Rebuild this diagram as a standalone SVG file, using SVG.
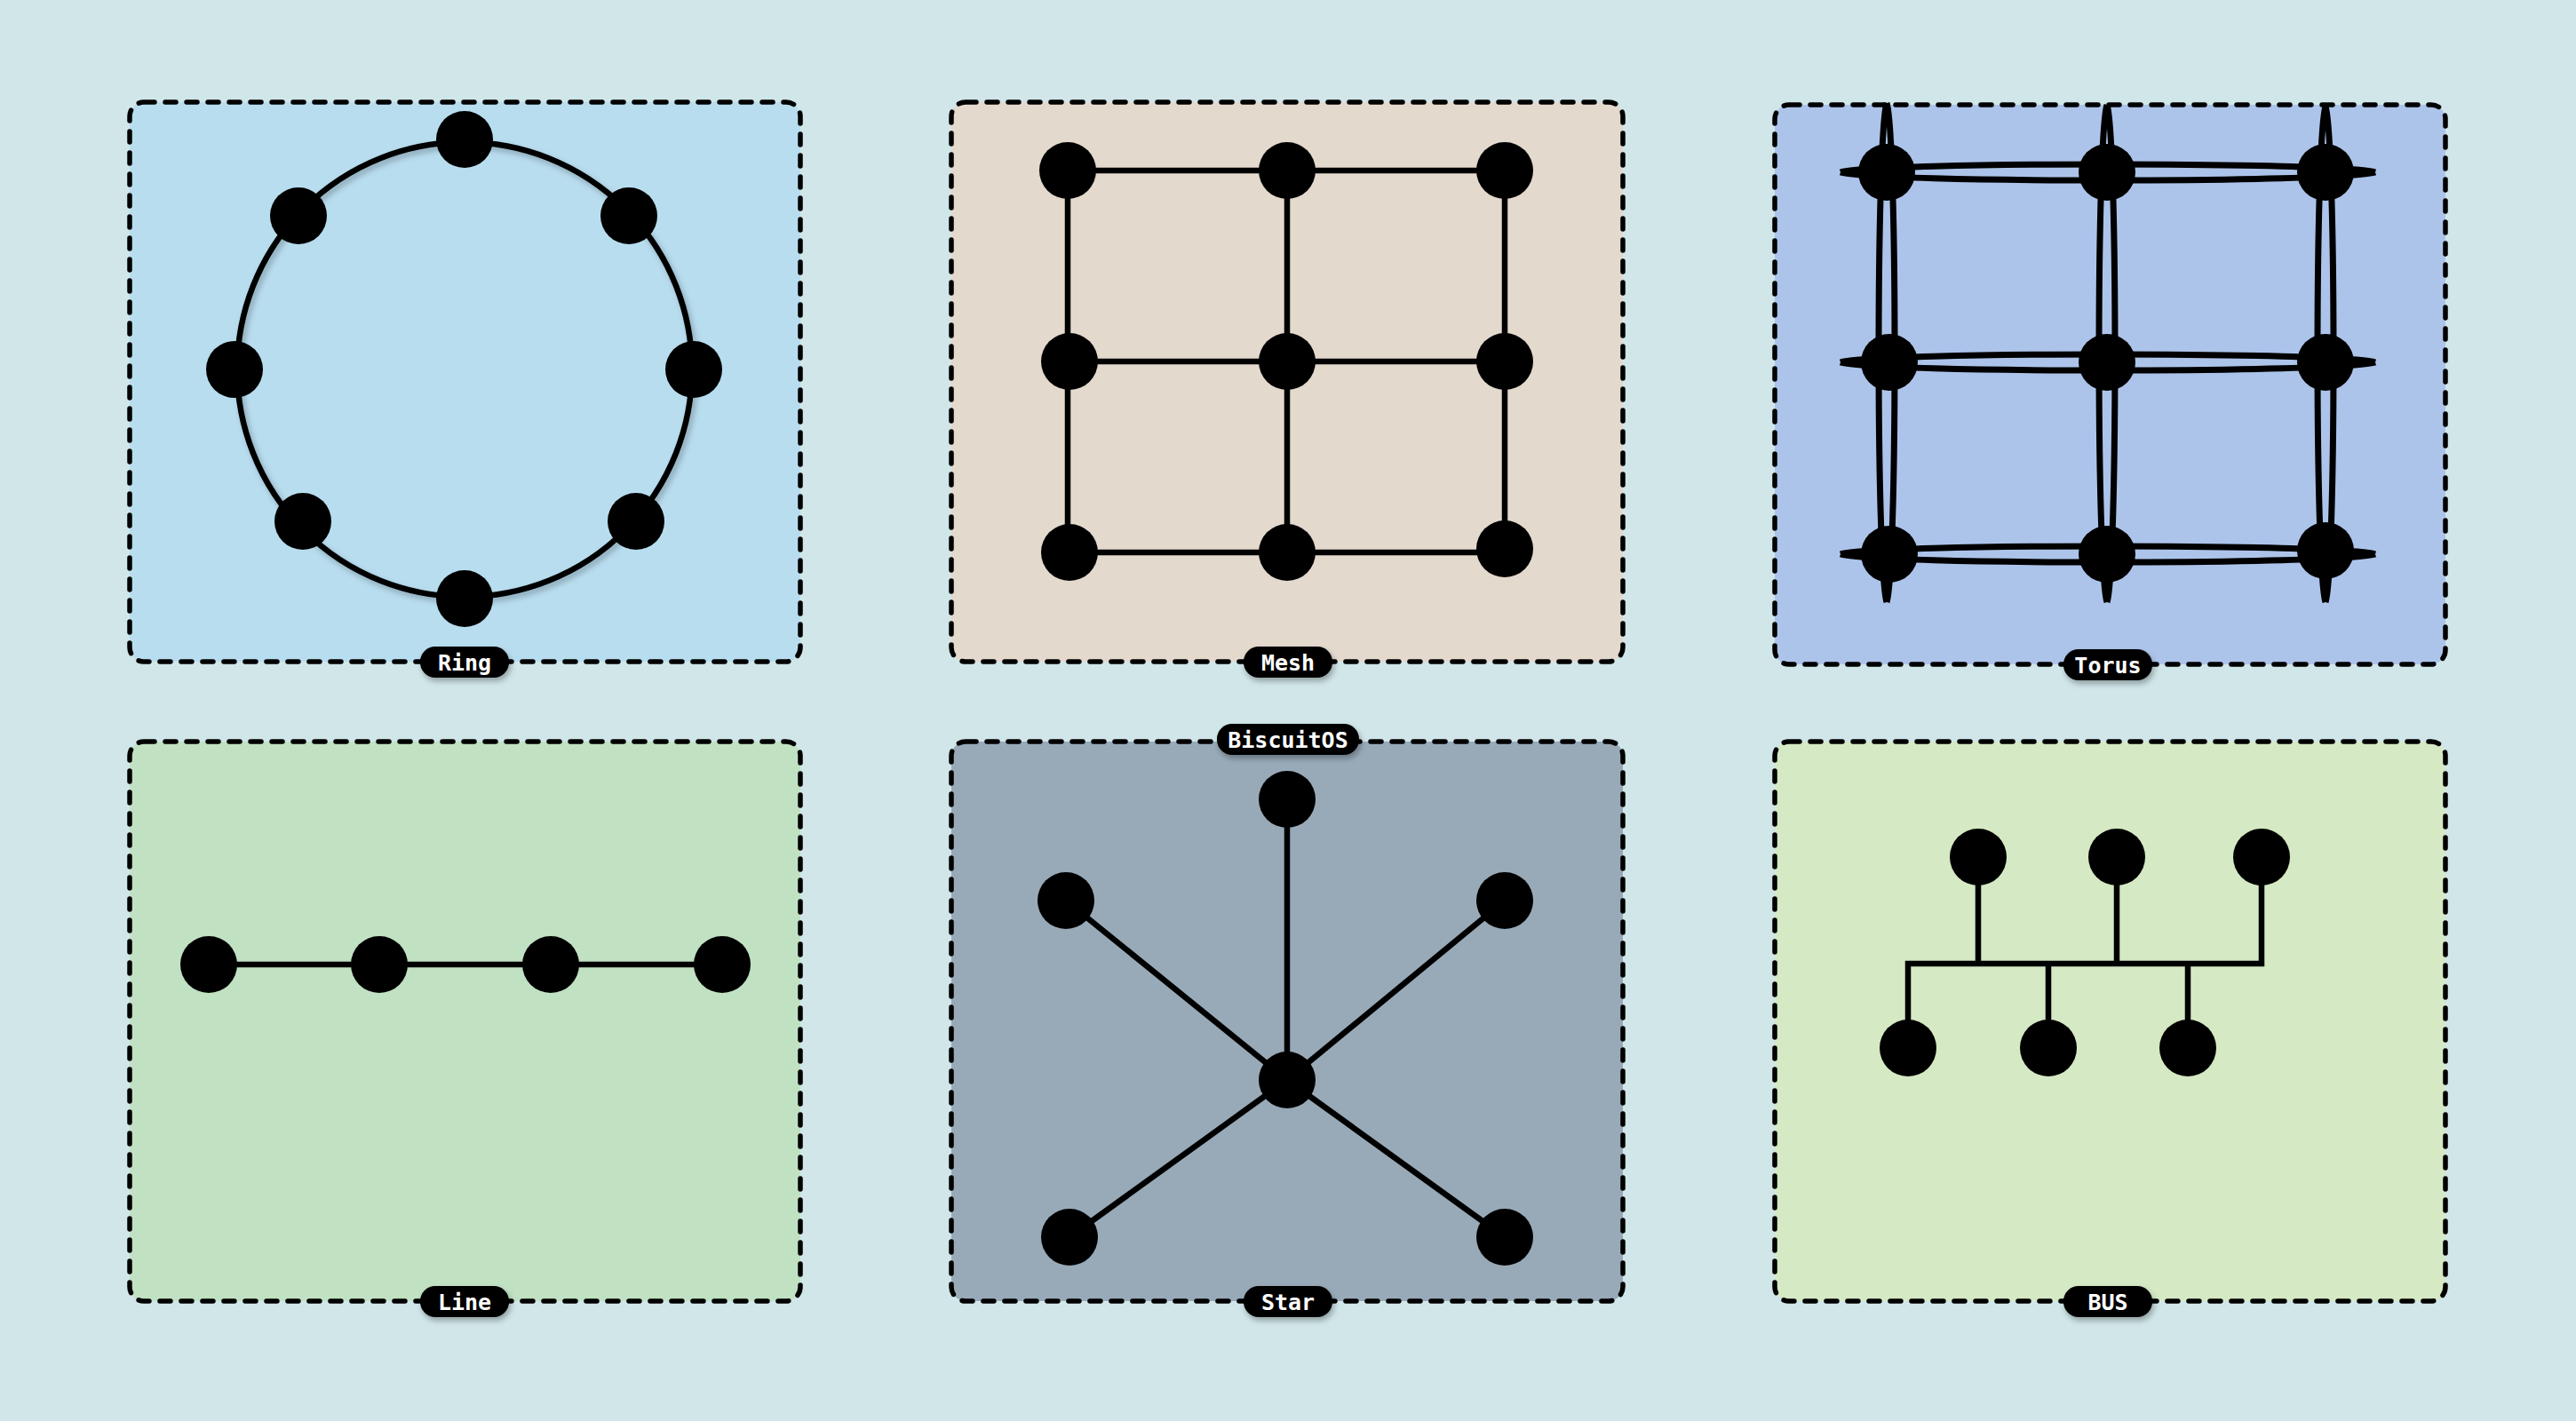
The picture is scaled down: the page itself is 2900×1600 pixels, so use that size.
<svg xmlns="http://www.w3.org/2000/svg" width="2900" height="1600" viewBox="0 0 2900 1600">
<defs>
<filter id="sh" x="-20%" y="-20%" width="140%" height="160%">
<feDropShadow dx="2" dy="4" stdDeviation="3" flood-color="#000" flood-opacity="0.3"/>
</filter>
<filter id="rsh" x="-10%" y="-10%" width="120%" height="120%">
<feDropShadow dx="3" dy="4" stdDeviation="3" flood-color="#000" flood-opacity="0.25"/>
</filter>
</defs>
<style>
.panel{stroke:#000;stroke-width:5.5;stroke-dasharray:12 12;stroke-linecap:round}
.e{fill:none;stroke:#000;stroke-width:6.5}
.t{fill:none;stroke:#000;stroke-width:7}
.n{fill:#000}
.pill{fill:#000;filter:url(#sh)}
.lbl{fill:#fff;font-family:"DejaVu Sans Mono","Liberation Mono",monospace;font-weight:bold;font-size:25px;text-anchor:middle;dominant-baseline:central}
</style>
<rect x="0" y="0" width="2900" height="1600" fill="#d0e6e9"/>

<g id="panels">
<rect id="panel-ring" class="panel" x="146" y="115" width="755" height="630" rx="16" fill="#b8ddef"/>
<rect id="panel-mesh" class="panel" x="1071" y="115" width="756" height="630" rx="16" fill="#e3d9cd"/>
<rect id="panel-torus" class="panel" x="1998" y="118" width="755" height="630" rx="16" fill="#adc4ea"/>
<rect id="panel-line" class="panel" x="146" y="835" width="755" height="630" rx="16" fill="#c1e1c3"/>
<rect id="panel-star" class="panel" x="1071" y="835" width="756" height="630" rx="16" fill="#98aab8"/>
<rect id="panel-bus" class="panel" x="1998" y="835" width="755" height="630" rx="16" fill="#d5e9c4"/>
</g>

<g id="connectors">
<circle class="e" cx="523" cy="416" r="256" filter="url(#rsh)"/>
<path class="e" d="M1202,192H1694M1204,407H1694M1204,622H1694M1202,192V622M1449,192V622M1694,192V622"/>
<path class="t" d="M2072,194C2110,182 2636,182 2674,194M2072,194C2110,206 2636,206 2674,194
M2072,408C2110,396 2636,396 2674,408M2072,408C2110,420 2636,420 2674,408
M2072,624C2110,612 2636,612 2674,624M2072,624C2110,636 2636,636 2674,624
M2124,116C2112,154 2112,640 2124,678M2124,116C2136,154 2136,640 2124,678
M2372,118C2360,156 2360,640 2372,678M2372,118C2384,156 2384,640 2372,678
M2618,120C2606,158 2606,640 2618,678M2618,120C2630,158 2630,640 2618,678"/>
<path class="e" d="M235,1086H813"/>
<path class="e" d="M1449,1216L1449,900M1449,1216L1200,1014M1449,1216L1694,1014M1449,1216L1204,1393M1449,1216L1694,1393"/>
<path class="e" d="M2227,965V1085M2383,965V1085M2546,965V1085H2148V1180M2306,1085V1180M2463,1085V1180"/>
</g>

<g id="ring-nodes">
<g id="ring-n1"><circle class="n" cx="523" cy="157" r="32"/></g>
<g id="ring-n2"><circle class="n" cx="708" cy="243" r="32"/></g>
<g id="ring-n3"><circle class="n" cx="781" cy="416" r="32"/></g>
<g id="ring-n4"><circle class="n" cx="716" cy="587" r="32"/></g>
<g id="ring-n5"><circle class="n" cx="523" cy="674" r="32"/></g>
<g id="ring-n6"><circle class="n" cx="341" cy="587" r="32"/></g>
<g id="ring-n7"><circle class="n" cx="264" cy="416" r="32"/></g>
<g id="ring-n8"><circle class="n" cx="336" cy="243" r="32"/></g>
</g>

<g id="mesh-nodes">
<g id="mesh-n11"><circle class="n" cx="1202" cy="192" r="32"/></g>
<g id="mesh-n12"><circle class="n" cx="1449" cy="192" r="32"/></g>
<g id="mesh-n13"><circle class="n" cx="1694" cy="192" r="32"/></g>
<g id="mesh-n21"><circle class="n" cx="1204" cy="407" r="32"/></g>
<g id="mesh-n22"><circle class="n" cx="1449" cy="407" r="32"/></g>
<g id="mesh-n23"><circle class="n" cx="1694" cy="407" r="32"/></g>
<g id="mesh-n31"><circle class="n" cx="1204" cy="622" r="32"/></g>
<g id="mesh-n32"><circle class="n" cx="1449" cy="622" r="32"/></g>
<g id="mesh-n33"><circle class="n" cx="1694" cy="618" r="32"/></g>
</g>

<g id="torus-nodes">
<g id="torus-n11"><circle class="n" cx="2124" cy="194" r="32"/></g>
<g id="torus-n12"><circle class="n" cx="2372" cy="194" r="32"/></g>
<g id="torus-n13"><circle class="n" cx="2618" cy="194" r="32"/></g>
<g id="torus-n21"><circle class="n" cx="2127" cy="408" r="32"/></g>
<g id="torus-n22"><circle class="n" cx="2372" cy="408" r="32"/></g>
<g id="torus-n23"><circle class="n" cx="2618" cy="408" r="32"/></g>
<g id="torus-n31"><circle class="n" cx="2127" cy="624" r="32"/></g>
<g id="torus-n32"><circle class="n" cx="2372" cy="624" r="32"/></g>
<g id="torus-n33"><circle class="n" cx="2618" cy="620" r="32"/></g>
</g>

<g id="line-nodes">
<g id="line-n1"><circle class="n" cx="235" cy="1086" r="32"/></g>
<g id="line-n2"><circle class="n" cx="427" cy="1086" r="32"/></g>
<g id="line-n3"><circle class="n" cx="620" cy="1086" r="32"/></g>
<g id="line-n4"><circle class="n" cx="813" cy="1086" r="32"/></g>
</g>

<g id="star-nodes">
<g id="star-center"><circle class="n" cx="1449" cy="1216" r="32"/></g>
<g id="star-top"><circle class="n" cx="1449" cy="900" r="32"/></g>
<g id="star-ul"><circle class="n" cx="1200" cy="1014" r="32"/></g>
<g id="star-ur"><circle class="n" cx="1694" cy="1014" r="32"/></g>
<g id="star-ll"><circle class="n" cx="1204" cy="1393" r="32"/></g>
<g id="star-lr"><circle class="n" cx="1694" cy="1393" r="32"/></g>
</g>

<g id="bus-nodes">
<g id="bus-t1"><circle class="n" cx="2227" cy="965" r="32"/></g>
<g id="bus-t2"><circle class="n" cx="2383" cy="965" r="32"/></g>
<g id="bus-t3"><circle class="n" cx="2546" cy="965" r="32"/></g>
<g id="bus-b1"><circle class="n" cx="2148" cy="1180" r="32"/></g>
<g id="bus-b2"><circle class="n" cx="2306" cy="1180" r="32"/></g>
<g id="bus-b3"><circle class="n" cx="2463" cy="1180" r="32"/></g>
</g>

<g id="labels">
<g id="label-ring"><rect class="pill" x="473" y="728" width="100" height="35" rx="17"/><text class="lbl" x="523" y="746">Ring</text></g>
<g id="label-mesh"><rect class="pill" x="1400" y="728" width="100" height="35" rx="17"/><text class="lbl" x="1450" y="746">Mesh</text></g>
<g id="label-torus"><rect class="pill" x="2323" y="731" width="100" height="35" rx="17"/><text class="lbl" x="2373" y="749">Torus</text></g>
<g id="label-biscuitos"><rect class="pill" x="1370" y="815" width="160" height="35" rx="17"/><text class="lbl" x="1450" y="833">BiscuitOS</text></g>
<g id="label-line"><rect class="pill" x="473" y="1448" width="100" height="35" rx="17"/><text class="lbl" x="523" y="1466">Line</text></g>
<g id="label-star"><rect class="pill" x="1400" y="1448" width="100" height="35" rx="17"/><text class="lbl" x="1450" y="1466">Star</text></g>
<g id="label-bus"><rect class="pill" x="2323" y="1448" width="100" height="35" rx="17"/><text class="lbl" x="2373" y="1466">BUS</text></g>
</g>
</svg>
